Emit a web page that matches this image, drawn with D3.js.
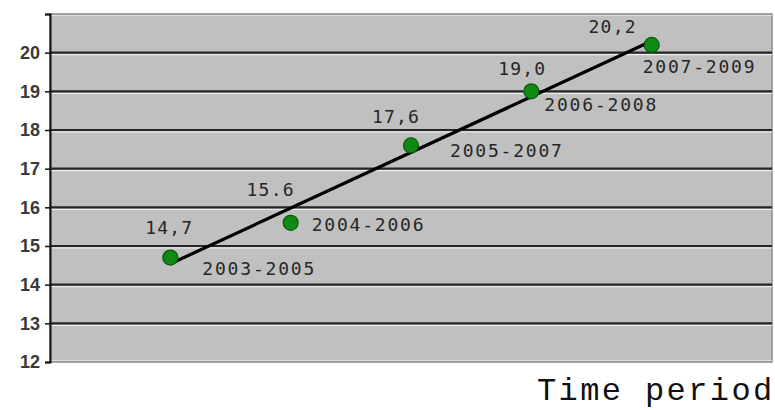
<!DOCTYPE html>
<html>
<head>
<meta charset="utf-8">
<script src="https://cdn.jsdelivr.net/npm/d3@7"></script>
<style>
  html, body { margin: 0; padding: 0; background: #ffffff; }
  svg { display: block; }
</style>
</head>
<body>
<svg id="chart" width="775" height="410"></svg>
<script>
// Rolling three-year periods and their values
const periods = ["2003-2005", "2004-2006", "2005-2007", "2006-2008", "2007-2009"];
const values = [14.7, 15.6, 17.6, 19.0, 20.2];
const valueLabels = ["14,7", "15.6", "17,6", "19,0", "20,2"];
const yTicks = [12, 13, 14, 15, 16, 17, 18, 19, 20, 21];
const yTickLabels = ["12", "13", "14", "15", "16", "17", "18", "19", "20", ""];

// Label placement relative to each marker (value label centre, period label left edge)
const valueLabelOffset = [[-1, -24], [-20, -27], [-15, -22], [-9, -16], [-39, -12]];
const periodLabelOffset = [[32, 17], [21, 8], [39, 12], [13, 20], [-9, 28]];

const svg = d3.select("#chart");
const plot = { left: 50, right: 772, top: 14, bottom: 362 };

const x = d3.scaleLinear().domain([0, periods.length + 1]).range([plot.left, plot.right]);
const y = d3.scaleLinear().domain([12, 21]).range([plot.bottom, plot.top]);

// Plot background
svg.append("rect")
  .attr("x", plot.left).attr("y", plot.top)
  .attr("width", plot.right - plot.left).attr("height", plot.bottom - plot.top)
  .attr("fill", "#c0c0c0")
  .attr("stroke", "#8c8c8c").attr("stroke-width", 1.5);

// Horizontal gridlines with a light bevel beneath
const grid = svg.append("g");
yTicks.filter(t => t > 12 && t < 21).forEach(t => {
  grid.append("line")
    .attr("x1", plot.left).attr("x2", plot.right)
    .attr("y1", y(t) + 2).attr("y2", y(t) + 2)
    .attr("stroke", "#ececec").attr("stroke-width", 1.2);
  grid.append("line")
    .attr("x1", plot.left).attr("x2", plot.right)
    .attr("y1", y(t)).attr("y2", y(t))
    .attr("stroke", "#262626").attr("stroke-width", 2.2);
});
// light edge along top and bottom
grid.append("line").attr("x1", plot.left).attr("x2", plot.right)
  .attr("y1", plot.top + 1.5).attr("y2", plot.top + 1.5)
  .attr("stroke", "#e0e0e0").attr("stroke-width", 1);
grid.append("line").attr("x1", plot.left).attr("x2", plot.right)
  .attr("y1", plot.bottom - 1.5).attr("y2", plot.bottom - 1.5)
  .attr("stroke", "#e0e0e0").attr("stroke-width", 1);

// Y axis
const yAxis = d3.axisLeft(y)
  .tickValues(yTicks)
  .tickFormat((d, i) => yTickLabels[i])
  .tickSize(5)
  .tickPadding(5);
const gy = svg.append("g")
  .attr("transform", `translate(${plot.left},0)`)
  .call(yAxis);
gy.attr("font-size", null);
gy.select(".domain").attr("stroke", "#111").attr("stroke-width", 2);
gy.selectAll(".tick line").attr("stroke", "#111").attr("stroke-width", 1.5);
gy.selectAll(".tick text")
  .attr("font-family", "Liberation Sans, Arial, sans-serif")
  .style("font-size", "18px")
  .attr("font-weight", "bold")
  .attr("fill", "#3a3a3a");

// Linear trend line fitted through the values
const idx = values.map((v, i) => i + 1);
const mx = d3.mean(idx), my = d3.mean(values);
const slope = d3.sum(idx, (xi, i) => (xi - mx) * (values[i] - my)) / d3.sum(idx, xi => (xi - mx) ** 2);
const intercept = my - slope * mx;
const trend = [1, values.length].map(xi => [xi, intercept + slope * xi]);
svg.append("path")
  .datum(trend)
  .attr("d", d3.line().x(d => x(d[0])).y(d => y(d[1])))
  .attr("stroke", "#000").attr("stroke-width", 3.2).attr("fill", "none");

// Markers
svg.append("g").selectAll("circle")
  .data(values)
  .join("circle")
  .attr("cx", (d, i) => x(i + 1))
  .attr("cy", d => y(d))
  .attr("r", 7.5)
  .attr("fill", "#0f8a12")
  .attr("stroke", "#0a5a0c")
  .attr("stroke-width", 1.2);

const labelFont = "DejaVu Sans Mono, monospace";

// Value labels
svg.append("g").selectAll("text")
  .data(values)
  .join("text")
  .attr("x", (d, i) => x(i + 1) + valueLabelOffset[i][0])
  .attr("y", (d, i) => y(d) + valueLabelOffset[i][1])
  .attr("text-anchor", "middle")
  .attr("font-family", labelFont)
  .attr("font-size", 18)
  .attr("letter-spacing", 1.2)
  .attr("fill", "#262626")
  .text((d, i) => valueLabels[i]);

// Period labels
svg.append("g").selectAll("text")
  .data(values)
  .join("text")
  .attr("x", (d, i) => x(i + 1) + periodLabelOffset[i][0])
  .attr("y", (d, i) => y(d) + periodLabelOffset[i][1])
  .attr("font-family", labelFont)
  .attr("font-size", 18)
  .attr("letter-spacing", 1.8)
  .attr("fill", "#262626")
  .text((d, i) => periods[i]);

// Axis title
svg.append("text")
  .attr("x", 537).attr("y", 400)
  .attr("font-family", "Liberation Mono, Courier New, monospace")
  .attr("font-size", 32)
  .attr("letter-spacing", 2.4)
  .attr("fill", "#111")
  .text("Time period");
</script>
</body>
</html>
